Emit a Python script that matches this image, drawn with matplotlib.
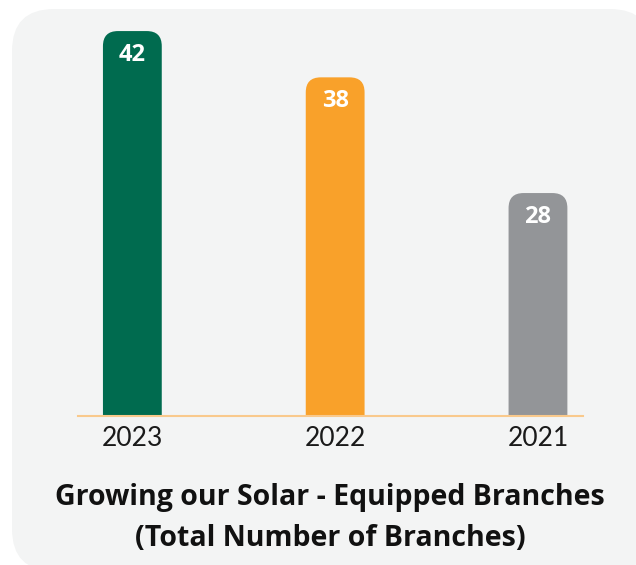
import matplotlib.pyplot as plt
from matplotlib.patches import FancyBboxPatch
from matplotlib.transforms import IdentityTransform

years = ["2023", "2022", "2021"]
branches = [42, 38, 28]
bar_colors = ["#006b4f", "#f9a12a", "#939598"]
title_lines = ["Growing our Solar - Equipped Branches", "(Total Number of Branches)"]

W, H, DPI = 636, 565, 100
fig = plt.figure(figsize=(W / DPI, H / DPI), dpi=DPI, facecolor="white")

# rounded light panel behind everything (pixel coords)
panel = FancyBboxPatch((12, -6), 640, 556 + 6,
                       boxstyle="round,pad=0,rounding_size=42",
                       transform=IdentityTransform(), facecolor="#f3f4f4",
                       edgecolor="none", zorder=-5)
fig.patches.append(panel)

ax_l, ax_r = 78 / W, 583 / W
ax_b, ax_t = 1 - 416 / H, 1 - 20 / H
ax = fig.add_axes([ax_l, ax_b, ax_r - ax_l, ax_t - ax_b])
ax.set_facecolor("none")

x = list(range(len(years)))
ymin = 8.73
px_per_unit = 11.57
xlim = (-0.268, 2.222)
ax.set_xlim(*xlim)
ax.set_ylim(ymin, ymin + (416 - 20) / px_per_unit)

bars = ax.bar(x, branches, width=0.29, color=bar_colors)

# swap the square bars for ones with rounded tops
px_x = (ax_r - ax_l) * W / (xlim[1] - xlim[0])
aspect = px_x / px_per_unit
radius = 15 / px_x
for b, c, v in zip(bars, bar_colors, branches):
    b.set_visible(False)
    rb = FancyBboxPatch((b.get_x(), b.get_y() - 5), b.get_width(), b.get_height() + 5,
                        boxstyle=f"round,pad=0,rounding_size={radius}",
                        mutation_aspect=aspect, facecolor=c, edgecolor="none",
                        zorder=2)
    ax.add_patch(rb)
    ax.annotate(str(v), (b.get_x() + b.get_width() / 2, v),
                xytext=(0, -17), textcoords="offset points",
                ha="center", va="center", color="white",
                fontsize=17, fontweight="bold", fontfamily="Open Sans", zorder=3)

for s in ["top", "right", "left"]:
    ax.spines[s].set_visible(False)
ax.spines["bottom"].set_color("#f9c98c")
ax.spines["bottom"].set_linewidth(1.5)
ax.spines["bottom"].set_zorder(3)
ax.set_yticks([])
ax.set_xticks(x)
ax.set_xticklabels(years, fontfamily="Lato", fontsize=19, color="#1a1a1a")
ax.tick_params(axis="x", length=0, pad=7)

for line, ypx in zip(title_lines, [497, 538]):
    fig.text(330 / W, 1 - ypx / H, line, ha="center", va="center",
             fontsize=20.5, fontweight="bold", fontfamily="Open Sans",
             color="#111111")

fig.savefig("out.png", dpi=DPI, facecolor="white")
